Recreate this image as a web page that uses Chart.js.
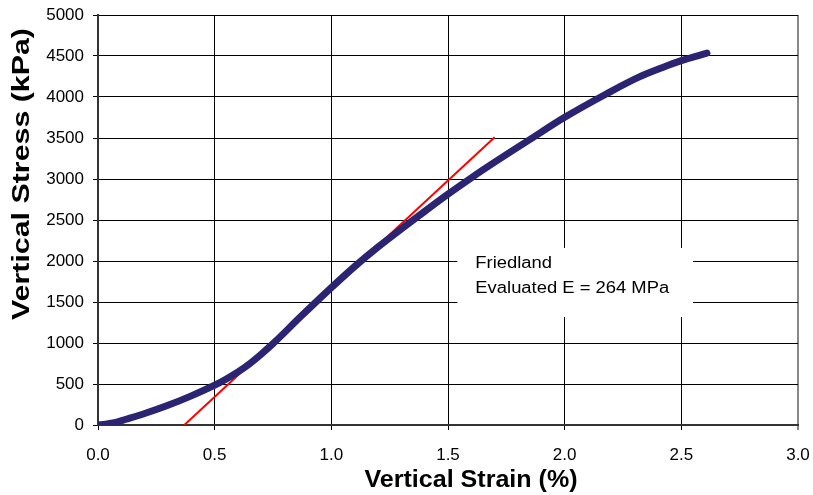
<!DOCTYPE html>
<html>
<head>
<meta charset="utf-8">
<script src="https://cdn.jsdelivr.net/npm/chart.js@4.4.1/dist/chart.umd.min.js"></script>
<style>
  html, body { margin: 0; padding: 0; background: #fff; }
  #wrap { width: 813px; height: 495px; }
</style>
</head>
<body>
<div id="wrap"><canvas id="c" width="813" height="495"></canvas></div>
<script>
// Measured curve: vertical strain (%) vs vertical stress (kPa)
const strain = [0.00, 0.03, 0.07, 0.12, 0.20, 0.30, 0.40, 0.50, 0.55, 0.60, 0.65, 0.70, 0.75, 0.87, 1.00, 1.10, 1.20, 1.30, 1.40, 1.50, 1.60, 1.70, 1.85, 2.00, 2.18, 2.32, 2.42, 2.50, 2.61];
const stress = [0, 10, 28, 70, 140, 240, 355, 485, 562, 648, 748, 865, 992, 1325, 1675, 1933, 2170, 2390, 2605, 2815, 3015, 3205, 3480, 3752, 4040, 4245, 4360, 4443, 4535];
// Fitted modulus line (E = 264 MPa)
const fitStrain = [0.37, 1.70];
const fitStress = [0, 3510];
// Axis ticks
const xTicks = [0.0, 0.5, 1.0, 1.5, 2.0, 2.5, 3.0];
const yTicks = [0, 500, 1000, 1500, 2000, 2500, 3000, 3500, 4000, 4500, 5000];
// Texts
const xTitle = 'Vertical Strain (%)';
const yTitle = 'Vertical Stress (kPa)';
const noteLines = ['Friedland', 'Evaluated E = 264 MPa'];

const FONT = "'Liberation Sans', Arial, sans-serif";

const curveData = strain.map((x, i) => ({ x: x, y: stress[i] }));
const fitData = fitStrain.map((x, i) => ({ x: x, y: fitStress[i] }));

function stretchedText(ctx, text, x, y, sx) {
  ctx.save();
  ctx.translate(x, y);
  ctx.scale(sx, 1);
  ctx.fillText(text, 0, 0);
  ctx.restore();
}

const overlay = {
  id: 'overlay',
  afterDatasetsDraw(chart) {
    const ctx = chart.ctx;
    const xs = chart.scales.x, ys = chart.scales.y;
    // annotation box
    const l = xs.getPixelForValue(1.54), r = xs.getPixelForValue(2.55);
    const t = ys.getPixelForValue(2160), b = ys.getPixelForValue(1317);
    ctx.save();
    ctx.fillStyle = '#ffffff';
    ctx.fillRect(l, t, r - l, b - t);
    ctx.fillStyle = '#000000';
    ctx.font = '16px ' + FONT;
    ctx.textBaseline = 'alphabetic';
    ctx.textAlign = 'left';
    stretchedText(ctx, noteLines[0], l + 18, t + 20, 1.15);
    stretchedText(ctx, noteLines[1], l + 18, t + 45, 1.15);
    ctx.restore();
  },
  afterDraw(chart) {
    const ctx = chart.ctx;
    const ca = chart.chartArea;
    ctx.save();
    ctx.fillStyle = '#000000';
    ctx.font = 'bold 23px ' + FONT;
    ctx.textAlign = 'center';
    ctx.textBaseline = 'alphabetic';
    stretchedText(ctx, xTitle, (ca.left + ca.right) / 2 + 23, 487, 1.09);
    ctx.translate(29, (ca.top + ca.bottom) / 2 - 46);
    ctx.rotate(-Math.PI / 2);
    stretchedText(ctx, yTitle, 0, 0, 1.32);
    ctx.restore();
  }
};

new Chart(document.getElementById('c'), {
  type: 'scatter',
  data: {
    datasets: [
      {
        data: fitData,
        showLine: true,
        borderColor: '#ff0000',
        borderWidth: 2,
        pointRadius: 0,
        order: 2
      },
      {
        data: curveData,
        showLine: true,
        borderColor: '#2a2473',
        borderWidth: 7,
        pointRadius: 0,
        cubicInterpolationMode: 'monotone',
        borderCapStyle: 'round',
        order: 1
      }
    ]
  },
  options: {
    responsive: false,
    animation: false,
    devicePixelRatio: 1,
    layout: { padding: { top: 15, right: 15, bottom: 0, left: 0 } },
    plugins: { legend: { display: false }, tooltip: { enabled: false } },
    scales: {
      x: {
        type: 'linear',
        min: 0, max: 3,
        afterFit(s) { s.height = 70; s.paddingLeft = 0; s.paddingRight = 0; },
        afterBuildTicks(s) { s.ticks = xTicks.map(v => ({ value: v })); },
        ticks: {
          color: '#000',
          font: { family: FONT, size: 17 },
          padding: 15,
          callback: v => Number(v).toFixed(1)
        },
        grid: {
          color: ctx => (ctx.tick && ctx.tick.value === 3) ? '#888888' : '#000000',
          lineWidth: ctx => (ctx.tick && ctx.tick.value === 3) ? 2 : 1,
          tickLength: 5,
          drawTicks: true
        },
        border: { color: '#333333', width: 2 }
      },
      y: {
        type: 'linear',
        min: 0, max: 5000,
        afterFit(s) { s.width = 98; s.paddingTop = 0; s.paddingBottom = 0; },
        afterBuildTicks(s) { s.ticks = yTicks.map(v => ({ value: v })); },
        ticks: {
          color: '#000',
          font: { family: FONT, size: 17 },
          padding: 9,
          callback: v => String(v)
        },
        grid: {
          color: '#000000',
          lineWidth: 1,
          tickLength: 5,
          drawTicks: true
        },
        border: { color: '#333333', width: 2 }
      }
    }
  },
  plugins: [overlay]
});
</script>
</body>
</html>
